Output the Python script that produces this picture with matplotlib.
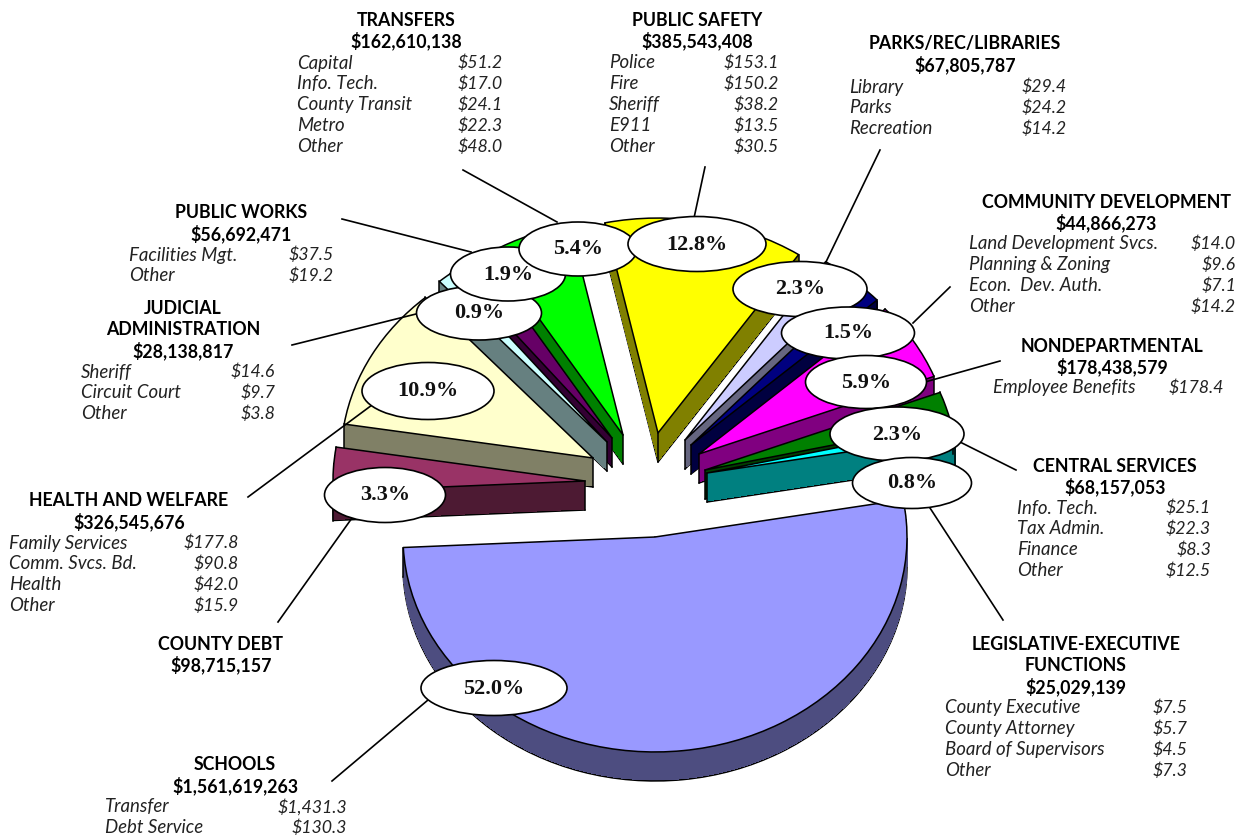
import numpy as np
import matplotlib
matplotlib.use('Agg')
import matplotlib.pyplot as plt
from matplotlib.patches import Wedge, Ellipse
from matplotlib.transforms import Affine2D
from matplotlib.colors import to_rgb

# ── Data ─────────────────────────────────────────────────
names = ['SCHOOLS', 'COUNTY DEBT', 'HEALTH AND WELFARE', 'JUDICIAL\nADMINISTRATION',
         'PUBLIC WORKS', 'TRANSFERS', 'PUBLIC SAFETY', 'PARKS/REC/LIBRARIES',
         'COMMUNITY DEVELOPMENT', 'NONDEPARTMENTAL', 'CENTRAL SERVICES',
         'LEGISLATIVE-EXECUTIVE\nFUNCTIONS']
pcts = [52.0, 3.3, 10.9, 0.9, 1.9, 5.4, 12.8, 2.3, 1.5, 5.9, 2.3, 0.8]
totals = ['$1,561,619,263', '$98,715,157', '$326,545,676', '$28,138,817',
          '$56,692,471', '$162,610,138', '$385,543,408', '$67,805,787',
          '$44,866,273', '$178,438,579', '$68,157,053', '$25,029,139']
colors = ['#9999FF', '#993366', '#FFFFCC', '#CCFFFF', '#660066', '#00FF00',
          '#FFFF00', '#CCCCFF', '#000080', '#FF00FF', '#008000', '#00FFFF']

schools_items = ['Transfer', 'Debt Service']
schools_vals = ['$1,431.3', '$130.3']
health_items = ['Family Services', 'Comm. Svcs. Bd.', 'Health', 'Other']
health_vals = ['$177.8', '$90.8', '$42.0', '$15.9']
judicial_items = ['Sheriff', 'Circuit Court', 'Other']
judicial_vals = ['$14.6', '$9.7', '$3.8']
works_items = ['Facilities Mgt.', 'Other']
works_vals = ['$37.5', '$19.2']
transfers_items = ['Capital', 'Info. Tech.', 'County Transit', 'Metro', 'Other']
transfers_vals = ['$51.2', '$17.0', '$24.1', '$22.3', '$48.0']
safety_items = ['Police', 'Fire', 'Sheriff', 'E911', 'Other']
safety_vals = ['$153.1', '$150.2', '$38.2', '$13.5', '$30.5']
parks_items = ['Library', 'Parks', 'Recreation']
parks_vals = ['$29.4', '$24.2', '$14.2']
community_items = ['Land Development Svcs.', 'Planning & Zoning', 'Econ.  Dev. Auth.', 'Other']
community_vals = ['$14.0', '$9.6', '$7.1', '$14.2']
nondept_items = ['Employee Benefits']
nondept_vals = ['$178.4']
central_items = ['Info. Tech.', 'Tax Admin.', 'Finance', 'Other']
central_vals = ['$25.1', '$22.3', '$8.3', '$12.5']
legis_items = ['County Executive', 'County Attorney', 'Board of Supervisors', 'Other']
legis_vals = ['$7.5', '$5.7', '$4.5', '$7.3']

all_items = [schools_items, [], health_items, judicial_items, works_items, transfers_items,
             safety_items, parks_items, community_items, nondept_items, central_items, legis_items]
all_vals = [schools_vals, [], health_vals, judicial_vals, works_vals, transfers_vals,
            safety_vals, parks_vals, community_vals, nondept_vals, central_vals, legis_vals]

# ── Layout (pixels) ──────────────────────────────────────
W, H = 1238, 835
RADIUS = 252
TILT = 0.853
DEPTH = 29
START = 10

apex = [(655, 537), (585, 481), (593, 458), (607, 442), (612, 438), (623, 435),
        (658, 433), (685, 440), (691, 445), (699, 454), (705, 470), (707, 473)]
draw_order = [5, 4, 3, 6, 7, 8, 9, 10, 11, 2, 1, 0]

# ellipse x, y, width, height
bubbles = [(494, 688, 146, 55), (385, 495, 121, 55), (428, 391, 132, 57), (479, 313, 125, 54),
           (508, 274, 115, 54), (578, 249, 118, 54), (697, 244, 138, 55), (800, 289, 134, 55),
           (848, 333, 133, 52), (866, 382, 121, 53), (897, 434, 134, 54), (912, 483, 119, 51)]
leaders = [((332, 781), (428, 700)), ((278, 622), (352, 518)), ((248, 497), (372, 405)),
           ((292, 345), (416, 314)), ((342, 219), (471, 252)), ((463, 170), (557, 222)),
           ((705, 167), (694, 218)), ((880, 150), (825, 264)), ((950, 287), (913, 323)),
           ((1000, 361), (925, 382)), ((1016, 470), (958, 441)), ((1003, 620), (930, 508))]

# heading centre x, heading first y, item left x, value right x, first item y
blocks = [(235, 764, 105, 347, 806), (221, 643, 0, 0, 0), (129, 500, 9, 239, 542),
          (183, 308, 81, 275, 371), (241, 212, 129, 334, 254), (406, 19, 297, 503, 62),
          (697, 19, 609, 779, 62), (965, 43, 849, 1067, 86), (1106, 201, 969, 1236, 243),
          (1112, 345, 993, 1224, 387), (1115, 465, 1017, 1211, 507), (1076, 644, 945, 1187, 707)]
LINE = 20.9

fig = plt.figure(figsize=(W / 100, H / 100), dpi=100)
ax = fig.add_axes([0, 0, 1, 1])
ax.set_xlim(0, W)
ax.set_ylim(H, 0)
ax.axis('off')

# ── Pie slices, clockwise from the right edge of Schools ──
ends = START - np.cumsum(pcts) * 3.6
starts = np.r_[START, ends[:-1]]


def slice_at(i, dy, z, **kw):
    cx, cy = apex[i]
    tr = Affine2D().scale(1, -TILT).translate(cx, cy + dy) + ax.transData
    ax.add_patch(Wedge((0, 0), RADIUS, ends[i], starts[i], transform=tr, zorder=z,
                       joinstyle='round', **kw))


for n, i in enumerate(draw_order):
    cx, cy = apex[i]
    top = colors[i]
    side = tuple(c * 0.5 for c in to_rgb(top))
    z = 1 + n * 0.1
    slice_at(i, DEPTH, z, facecolor=side, edgecolor='black', linewidth=1.1)
    for dy in range(DEPTH - 1, 0, -1):
        slice_at(i, dy, z + 0.01, facecolor=side, edgecolor='none', antialiased=False)
    # vertical edges sit under the top face, which hides the ones facing away
    ax.plot([cx, cx], [cy, cy + DEPTH], color='black', lw=1.1, zorder=z + 0.02)
    for a in (starts[i], ends[i]):
        x = cx + RADIUS * np.cos(np.radians(a))
        y = cy - RADIUS * TILT * np.sin(np.radians(a))
        ax.plot([x, x], [y, y + DEPTH], color='black', lw=1.1, zorder=z + 0.02)
    slice_at(i, 0, z + 0.03, facecolor=top, edgecolor='black', linewidth=1.1)

# ── Leaders and percentage bubbles ───────────────────────
for p0, p1 in leaders:
    ax.plot([p0[0], p1[0]], [p0[1], p1[1]], color='black', lw=1.2, zorder=5)

for (x, y, w, h), p in zip(bubbles, pcts):
    ax.add_patch(Ellipse((x, y), w, h, facecolor='white', edgecolor='black', linewidth=1.2, zorder=6))
    ax.text(x, y + 0.5, f'{p:.1f}%', family='Liberation Serif', fontweight='bold', fontsize=16,
            ha='center', va='center', color='#111111', zorder=7)

# ── Text blocks ──────────────────────────────────────────
for i, (hx, hy, lx, rx, iy) in enumerate(blocks):
    lines = names[i].split('\n') + [totals[i]]
    for k, t in enumerate(lines):
        ax.text(hx, hy + 1 + k * LINE, t, family='Lato', fontweight='bold', fontsize=12.8,
                ha='center', va='center', color='black')
    for k, (item, val) in enumerate(zip(all_items[i], all_vals[i])):
        ax.text(lx, iy + 1 + k * LINE, item, family='Lato', style='italic', fontsize=13.4,
                ha='left', va='center', color='#222222')
        ax.text(rx, iy + 1 + k * LINE, val, family='Lato', style='italic', fontsize=12.8,
                ha='right', va='center', color='#222222')

fig.savefig('out.png', dpi=100)
